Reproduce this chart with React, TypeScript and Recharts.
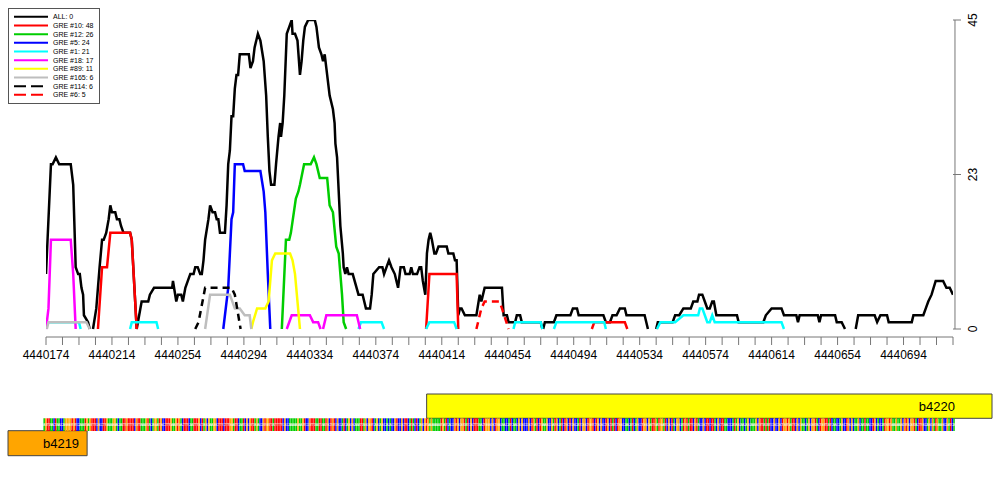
import React from 'react';
import { ComposedChart, Line, Bar, Cell, LabelList, XAxis, YAxis, Legend, ReferenceLine, ReferenceArea } from 'recharts';

const START = 4440174;
const SPAN = 550;
const FONT = '"Liberation Sans", Arial, Helvetica, sans-serif';

// x labels along the bottom axis (every 40 bp, minor ticks every 10 bp)
const xLabelTicks = [4440174, 4440214, 4440254, 4440294, 4440334, 4440374, 4440414, 4440454, 4440494, 4440534, 4440574, 4440614, 4440654, 4440694];
const yTicks = [0, 22.5, 45];

// each series: segments of [bp offset from START, count]
const allSegs = [
  [[0, 8], [3, 24], [4, 24], [6, 25], [8, 24], [15, 24], [16.5, 21], [18, 9], [19.5, 8], [20.5, 8], [21.5, 6], [22.5, 5], [23, 2], [25.5, 1], [26.5, 0]],
  [[28.5, 0], [30.5, 3], [32.5, 9], [34, 13], [35, 13], [36.5, 14], [38, 16], [39, 18], [40, 17], [42, 17], [43, 16], [44.5, 16], [45.5, 15], [47, 14], [51, 14], [52, 13], [55, 0], [58, 4], [62, 4], [63, 5], [65.5, 6], [76.5, 6], [77, 7], [79, 4], [80, 5], [82, 5], [83, 4], [84.5, 6], [86, 7], [87.5, 8], [89.5, 8], [90.5, 9], [92, 9], [93.5, 8], [94.5, 8], [95.5, 10], [96.5, 13], [98.5, 16], [99.5, 18], [101, 17], [102.5, 17], [103.5, 16], [104.5, 16], [105.5, 14], [108.5, 14], [109.5, 18], [110.5, 24], [111.5, 26], [112.5, 31], [113.5, 31], [114.5, 35], [115.5, 37], [116.5, 37], [117.5, 40], [123, 40], [124, 38], [125.5, 39], [126.5, 41], [128.5, 43], [130, 42], [132, 39], [133.5, 34], [134.5, 28], [135.5, 23], [136.5, 21], [138.5, 21], [139.5, 24], [141, 28], [142, 30], [142.5, 28], [143.5, 30], [144.5, 34], [146, 43], [147.5, 44], [149, 45], [149.5, 43], [151, 43], [152.5, 42], [154, 37], [155, 39], [156, 42], [157, 44], [159, 45], [163, 45], [164, 44], [165.5, 41], [167, 40], [168, 39], [169, 40], [170, 38], [172, 34], [174, 32], [175, 30], [175.5, 27], [176.5, 25], [178.5, 15], [180, 11], [180.5, 9], [181.5, 8], [182.5, 9], [183.5, 8], [186, 8], [189.5, 5], [192, 5], [194, 3], [196.5, 3], [197.5, 5], [198.5, 8], [202, 9], [204, 9], [205, 8], [206.5, 9], [208, 10], [209.5, 9], [211.5, 8], [212.5, 7], [213.5, 6], [215, 9], [217, 9], [218, 8], [220.5, 8], [221.5, 9], [222.5, 8], [225, 8], [226.5, 9], [227.5, 9], [228.5, 7], [230, 5], [231, 11], [232, 13], [233, 14], [234, 13], [235.5, 11], [236.5, 11], [238, 12], [243, 12], [244, 11], [247, 11], [248, 10], [249, 10], [250, 2], [251, 3], [252, 3], [254, 2], [261, 2], [263, 5], [264, 4], [266, 6], [276.5, 6], [277.5, 2], [279.5, 2], [280.5, 1], [284.5, 1], [285.5, 2], [287.5, 2], [288.5, 1], [300, 1], [301, 0]],
  [[301.5, 0], [302.5, 1], [308, 1], [309.5, 2], [318, 2], [319.5, 3], [322, 3], [323, 2], [338, 2], [339.5, 1], [342, 1], [343.5, 2], [346, 2], [348, 3], [351, 3], [352, 2], [363, 2], [365, 0]],
  [[370, 0], [371, 1], [380, 1], [381.5, 2], [384, 2], [386.5, 3], [391, 3], [392.5, 4], [395, 4], [396, 5], [398, 5], [399.5, 4], [401, 3], [402.5, 3], [404, 4], [405, 4], [406.5, 2], [419, 2], [420, 1], [435, 1], [436.5, 2], [440, 3], [446, 3], [447.5, 2], [455, 2], [456, 1], [457, 2], [468, 2], [469, 1], [470, 2], [478.5, 2], [479.5, 1], [482.5, 1], [484.5, 0]],
  [[491, 0], [492.5, 2], [502.5, 2], [504, 1], [506, 2], [510, 2], [511, 1], [525, 1], [526, 2], [532, 2], [533.5, 3], [535, 4], [537, 5], [539.5, 7], [544, 7], [546, 6], [548, 6], [550, 5]],
];
const gre10Segs = [
  [[31.5, 0], [34, 9], [37, 9], [39, 14], [51, 14], [52, 13], [55, 0]],
  [[230.5, 0], [232.5, 8], [249, 8], [250, 0]],
  [[331, 0], [332.5, 1], [351, 1], [352.5, 0]],
];
const gre12Segs = [
  [[143, 0], [145.5, 13], [147.5, 13], [148.5, 14], [151.5, 19], [153, 20], [154, 21], [156.5, 24], [160.5, 24], [162.5, 25], [164, 24], [166, 22], [170.5, 22], [172, 18], [174, 17], [176, 12], [177.5, 11], [179.5, 5], [180.5, 1], [182, 0]],
];
const gre5Segs = [
  [[107.5, 0], [110.5, 6], [112.5, 16], [113.5, 17], [114.5, 24], [119.5, 24], [120.5, 23], [130, 23], [132, 20], [133, 17], [134.5, 8], [136, 0]],
];
const gre1Segs = [
  [[0, 1], [20, 1], [21, 0]],
  [[51, 0], [52, 1], [67, 1], [68, 0]],
  [[189.5, 0], [191, 1], [203.5, 1], [205, 0]],
  [[230.5, 0], [232.5, 1], [247.5, 1], [249, 0]],
  [[283.5, 0], [284.5, 1], [300, 1], [301, 0]],
  [[308, 0], [309.5, 1], [338.5, 1], [339.5, 0]],
  [[370.5, 0], [372.5, 1], [381.5, 1], [386.5, 2], [395.5, 2], [396.5, 3], [398, 3], [399.5, 2], [401, 1], [402.5, 1], [404, 2], [405.5, 1], [446, 1], [447.5, 0]],
];
const gre18Segs = [
  [[0, 0], [1.5, 3], [3, 13], [15, 13], [16.5, 8], [18, 0]],
  [[146, 0], [149, 2], [160, 2], [162, 1], [165, 1], [166.5, 0]],
  [[168, 0], [170, 2], [188.5, 2], [190.5, 0]],
];
const gre89Segs = [
  [[124.5, 0], [125.5, 1], [128, 3], [133, 3], [135, 4], [137, 10], [139, 11], [148, 11], [149.5, 10], [151, 8], [154, 0]],
];
const gre165Segs = [
  [[0.5, 0], [1.5, 1], [24.5, 1], [26.5, 0]],
  [[96.5, 0], [99.5, 5], [111.5, 5], [114.5, 3], [117.5, 3], [120.5, 2], [123.5, 2], [124.5, 0]],
];
const gre114Segs = [
  [[90.5, 0], [92.5, 1], [96.5, 6], [112.5, 6], [114.5, 5], [118, 0]],
];
const gre6Segs = [
  [[261, 0], [264, 3], [266, 4], [275, 4], [276.5, 3], [280.5, 0]],
];

const seriesNames = ['ALL: 0', 'GRE #10: 48', 'GRE #12: 26', 'GRE #5: 24', 'GRE #1: 21', 'GRE #18: 17', 'GRE #89: 11', 'GRE #165: 6', 'GRE #114: 6', 'GRE #6: 5'];
const seriesSegs = [allSegs, gre10Segs, gre12Segs, gre5Segs, gre1Segs, gre18Segs, gre89Segs, gre165Segs, gre114Segs, gre6Segs];
const seriesColors = ['#000000', '#ff0000', '#00cd00', '#0000ff', '#00ffff', '#ff00ff', '#ffff00', '#bebebe', '#000000', '#ff0000'];
const seriesDash = ['', '', '', '', '', '', '', '', '7 5', '7 5'];

// genes (bp offsets from START)
const genes = [
  { name: 'b4220', from: 231, to: 574, color: '#ffff00', row: 'top' },
  { name: 'b4219', from: -23, to: 25, color: '#ffa500', row: 'bottom' },
];

// sequence under the track, read roughly from the colour stripes
const sequence =
  'AGTTAACTAACCAGGGGTGTCCAAATGAGTTTCGCCTTGAAAGGACAATT' +
  'GTTTTCGTTAAAGTACAGGATGCCTTTGAAGTGACTTTCAATTTGCTAGC' +
  'GAAGGCTTTCTTTGGATTCAATCGCGTTAGACCGTGGTTATTTTTCGCCA' +
  'AAAAGAAGTCCGTTTAATTAATGCTGTCGCCATCAGCGCAAATTAGCGGT' +
  'CAGCAGCCACACCGTCCGCTTCATACTCAGCGTGAGAAAAATGATCACCG' +
  'TGCGGTATCGCTTTAACTGGGCGCTGGCAACCATCAACGCGCCCGCTGAT' +
  'CTGAAGCCGATGCATCTGCTCGCCATCGGCTGGTCTGCGCCTGCTATCTG' +
  'GCCAACATCAGCCTGGCGATTGATGGATCGCTACGGCATGTATTCGTACC' +
  'GCTTCTTACGCTTAACCCATAGCAACAGCAAAGCGTTATATCCGCCGCTG' +
  'GTGATTCGCGAACAGCGGTACTGGTTATCAACCAGCCTGCGCAAGCAATA' +
  'ACCTGCACCATGGTGAAGAAGCGTGCGGTACTTGCCAGCGATGAAGCCGATCA';
const baseColors: Record<string, string> = { A: '#00cc00', C: '#0000ff', G: '#ffa500', T: '#ff0000' };

const toLineData = (segs: number[][][]) => {
  const out: { x: number; v: number | null }[] = [];
  segs.forEach((seg, i) => {
    if (i > 0) {
      const prev = segs[i - 1][segs[i - 1].length - 1][0];
      out.push({ x: START + (prev + seg[0][0]) / 2, v: null });
    }
    seg.forEach(([p, v]) => out.push({ x: START + p, v }));
  });
  return out;
};

const Y_MIN = -8 / 6.867;
const minorTicks: number[] = [];
for (let t = START; t <= START + SPAN; t += 10) minorTicks.push(t);

const YTick = ({ x, y, payload }: any) => {
  const bx = x + 16;
  return (
    <text x={bx} y={y} transform={`rotate(-90 ${bx} ${y})`} textAnchor="middle" fontSize={12} fontFamily={FONT} fill="#000">
      {Math.round(payload.value)}
    </text>
  );
};

const LegendBox = () => (
  <div style={{ width: 92, height: 96, border: '1px solid #555', boxSizing: 'border-box', background: '#fff' }}>
    <svg width={90} height={94}>
      {seriesNames.map((n, i) => {
        const y = 7.8 + i * 8.67;
        return (
          <g key={n}>
            <line x1={5} x2={39} y1={y} y2={y} stroke={seriesColors[i]} strokeWidth={2} strokeDasharray={seriesDash[i] ? '12 5' : undefined} />
            <text x={44} y={y + 2.5} fontSize={7} fontFamily={FONT} fill="#000">{n}</text>
          </g>
        );
      })}
    </svg>
  </div>
);

// tiny white base letters inside each stripe
const BaseLetter = ({ x, y, width, height, value }: any) => (
  <text x={x + width / 2} y={y + height / 2 + 1.5} textAnchor="middle" fontSize={4} fontFamily={FONT} fill="#ffffff" opacity={0.85}>
    {value}
  </text>
);

const App: React.FC = () => {
  const lines = seriesSegs.map(toLineData);
  const seqData = sequence.split('').map((b, i) => ({ x: START + i - 1, range: [39, 51.7], base: b }));

  return (
    <div style={{ position: 'absolute', left: 0, top: 0, width: 1000, height: 500, background: '#fff', fontFamily: FONT }}>
      <div style={{ position: 'absolute', left: 0, top: 0 }}>
        <ComposedChart width={1000} height={380} margin={{ top: 20, left: 46, right: 7, bottom: 13 }}>
          <XAxis
            dataKey="x"
            type="number"
            domain={[START, START + SPAN]}
            ticks={minorTicks}
            interval={0}
            allowDataOverflow
            tickSize={8}
            tickMargin={5}
            height={30}
            stroke="#777"
            tick={{ fill: '#000', fontSize: 12, fontFamily: FONT }}
            tickFormatter={(v: number) => (xLabelTicks.includes(v) ? String(v) : '')}
          />
          <YAxis
            orientation="right"
            type="number"
            width={40}
            domain={[Y_MIN, 45]}
            ticks={yTicks}
            interval={0}
            allowDataOverflow
            tickSize={8}
            tickMargin={0}
            axisLine={false}
            tickLine={{ stroke: '#777' }}
            tick={<YTick />}
          />
          <ReferenceLine segment={[{ x: START + SPAN + 1.2, y: 0 }, { x: START + SPAN + 1.2, y: 45 }]} stroke="#777" ifOverflow="visible" />
          <Legend
            layout="horizontal"
            verticalAlign="middle"
            align="center"
            wrapperStyle={{ left: 8, top: 8, width: 92, height: 96 }}
            content={() => <LegendBox />}
          />
          {lines.map((d, i) => (
            <Line
              key={seriesNames[i]}
              data={d}
              dataKey="v"
              name={seriesNames[i]}
              type="linear"
              stroke={seriesColors[i]}
              strokeWidth={2.5}
              strokeDasharray={seriesDash[i] || undefined}
              dot={false}
              activeDot={false}
              connectNulls={false}
              isAnimationActive={false}
            />
          ))}
        </ComposedChart>
      </div>
      <div style={{ position: 'absolute', left: 0, top: 380 }}>
        <ComposedChart width={1000} height={90} data={seqData} margin={{ top: 0, left: 8, right: 8, bottom: 0 }}>
          <XAxis dataKey="x" type="number" hide domain={[START - 23, START + 574]} allowDataOverflow />
          <YAxis type="number" hide domain={[0, 90]} allowDataOverflow />
          <Bar dataKey="range" barSize={2} isAnimationActive={false}>
            {seqData.map((d, i) => (
              <Cell key={i} fill={baseColors[d.base]} />
            ))}
            <LabelList dataKey="base" content={<BaseLetter />} />
          </Bar>
          {genes.map((g) => (
            <ReferenceArea
              key={g.name}
              x1={START + g.from}
              x2={START + g.to}
              y1={g.row === 'top' ? 51.7 : 14.3}
              y2={g.row === 'top' ? 76 : 39.3}
              fill={g.color}
              fillOpacity={1}
              stroke="#444"
              strokeWidth={1}
              ifOverflow="visible"
              label={{ value: g.name, position: 'insideRight', offset: g.row === 'top' ? 37 : 8, fill: '#000', fontSize: 13, fontFamily: FONT }}
            />
          ))}
        </ComposedChart>
      </div>
    </div>
  );
};

export default App;
